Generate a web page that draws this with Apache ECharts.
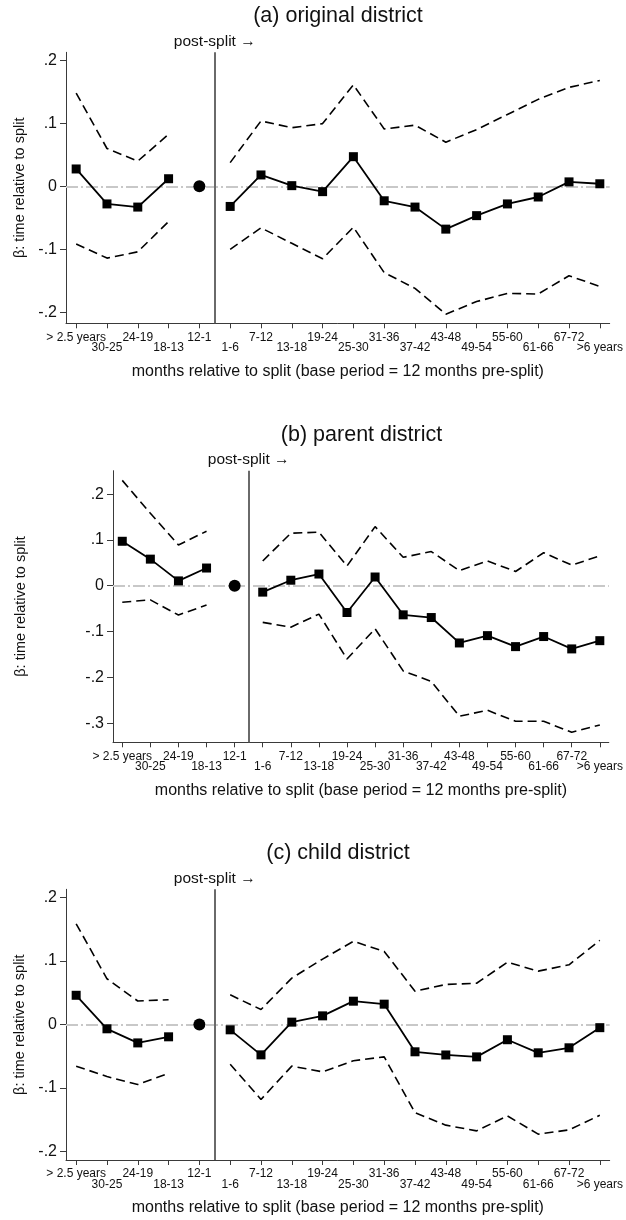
<!DOCTYPE html>
<html>
<head>
<meta charset="utf-8">
<style>
  html, body { margin: 0; padding: 0; background: #ffffff; }
  #chart { width: 626px; height: 1220px; }
</style>
<script src="https://cdn.jsdelivr.net/npm/echarts@6/dist/echarts.min.js"></script>
</head>
<body>
<div id="chart"></div>
<script>
// Event-study periods (months relative to the district split)
const periods = ['> 2.5 years', '30-25', '24-19', '18-13', '12-1', '1-6', '7-12', '13-18', '19-24',
  '25-30', '31-36', '37-42', '43-48', '49-54', '55-60', '61-66', '67-72', '>6 years'];
const baseIndex = 4;        // 12-1 months pre-split is the omitted base period
const baseEstimate = 0;

// (a) original district
const originalCoef  = [0.0275, -0.028, -0.033, 0.012, null, -0.032, 0.018, 0.001, -0.0085, 0.047, -0.023, -0.033, -0.068, -0.0466, -0.028, -0.017, 0.007, 0.004];
const originalUpper = [0.148, 0.060, 0.040, 0.0825, null, 0.0376, 0.1037, 0.093, 0.0995, 0.161, 0.091, 0.097, 0.070, 0.090, 0.114, 0.138, 0.157, 0.168];
const originalLower = [-0.0915, -0.114, -0.104, -0.056, null, -0.100, -0.066, -0.0905, -0.115, -0.065, -0.137, -0.162, -0.203, -0.183, -0.170, -0.171, -0.142, -0.159];

// (b) parent district
const parentCoef  = [0.097, 0.058, 0.0105, 0.0386, null, -0.014, 0.012, 0.0255, -0.0585, 0.019, -0.0636, -0.0695, -0.125, -0.109, -0.133, -0.111, -0.138, -0.120];
const parentUpper = [0.230, 0.158, 0.089, 0.119, null, 0.054, 0.1146, 0.1168, 0.043, 0.129, 0.062, 0.0745, 0.033, 0.054, 0.031, 0.072, 0.045, 0.065];
const parentLower = [-0.036, -0.031, -0.064, -0.042, null, -0.080, -0.0905, -0.062, -0.160, -0.094, -0.186, -0.209, -0.285, -0.272, -0.296, -0.296, -0.320, -0.304];

// (c) child district
const childCoef  = [0.046, -0.0068, -0.029, -0.0194, null, -0.0084, -0.0478, 0.0037, 0.0136, 0.0367, 0.032, -0.043, -0.048, -0.051, -0.024, -0.0446, -0.0367, -0.005];
const childUpper = [0.1586, 0.072, 0.037, 0.039, null, 0.0467, 0.0236, 0.073, 0.103, 0.131, 0.115, 0.0525, 0.063, 0.065, 0.098, 0.084, 0.094, 0.1325];
const childLower = [-0.0656, -0.082, -0.0945, -0.077, null, -0.0625, -0.118, -0.0656, -0.0745, -0.057, -0.051, -0.139, -0.1585, -0.1675, -0.144, -0.1727, -0.166, -0.143];

// y-axis tick values
const ticksNarrow = [-0.2, -0.1, 0, 0.1, 0.2];
const ticksWide   = [-0.3, -0.2, -0.1, 0, 0.1, 0.2];

const titles = ['(a) original district', '(b) parent district', '(c) child district'];
const yAxisTitle = 'β: time relative to split';
const xAxisTitle = 'months relative to split (base period = 12 months pre-split)';
const splitLabel = 'post-split →';

const FONT = '"Liberation Sans", Arial, Helvetica, sans-serif';

// Layout of the three stacked panels
const panels = [
  { title: titles[0], coef: originalCoef, upper: originalUpper, lower: originalLower, ticks: ticksNarrow,
    min: -0.2175, max: 0.2127, grid: { left: 66, top: 52.3, width: 544, height: 271 }, titleY: 16.5, yGap: 38 },
  { title: titles[1], coef: parentCoef, upper: parentUpper, lower: parentLower, ticks: ticksWide,
    min: -0.3419, max: 0.2511, grid: { left: 113, top: 470.7, width: 497, height: 271.6 }, titleY: 435, yGap: 85 },
  { title: titles[2], coef: childCoef, upper: childUpper, lower: childLower, ticks: ticksNarrow,
    min: -0.2134, max: 0.2129, grid: { left: 66, top: 889.3, width: 544, height: 270.7 }, titleY: 852.8, yGap: 38 }
];

const toPairs = arr => arr.map((v, i) => [i, v == null ? '-' : v]);
const stataNum = v => {
  if (Math.abs(v) < 1e-9) return '0';
  return (v < 0 ? '-' : '') + Math.abs(v).toFixed(1).replace(/^0/, '');
};
const xPositions = periods.map((_, i) => i);
// period labels alternate between two rows under the axis
const upperRow = xPositions.filter(i => i % 2 === 0);
const lowerRow = xPositions.filter(i => i % 2 === 1);
const periodLabel = v => periods[Math.round(v)];

const grids = [], xAxes = [], yAxes = [], series = [], graphics = [];
const X_MIN = -0.33, X_MAX = 17.32;

panels.forEach((p, k) => {
  grids.push(Object.assign({ containLabel: false }, p.grid));
  const xMain = 2 * k;

  xAxes.push({
    type: 'value', gridIndex: k, position: 'bottom', offset: 0, min: X_MIN, max: X_MAX,
    axisLine: { show: true, onZero: false, lineStyle: { color: '#3a3a3a', width: 1 } },
    axisTick: { show: true, length: 5, customValues: xPositions, lineStyle: { color: '#3a3a3a' } },
    axisLabel: {
      customValues: upperRow, margin: 8, fontFamily: FONT, fontSize: 12, lineHeight: 12,
      color: '#111', hideOverlap: false, showMinLabel: true, showMaxLabel: true,
      formatter: periodLabel
    },
    splitLine: { show: false },
    name: xAxisTitle, nameLocation: 'middle', nameGap: 40,
    nameTextStyle: { fontFamily: FONT, fontSize: 16, color: '#111' }
  });
  xAxes.push({
    type: 'value', gridIndex: k, position: 'bottom', offset: 0, min: X_MIN, max: X_MAX,
    axisLine: { show: false, onZero: false },
    axisTick: { show: false },
    axisLabel: {
      customValues: lowerRow, margin: 18.5, fontFamily: FONT, fontSize: 12, lineHeight: 12,
      color: '#111', hideOverlap: false, showMinLabel: true, showMaxLabel: true,
      formatter: periodLabel
    },
    splitLine: { show: false }
  });

  yAxes.push({
    type: 'value', gridIndex: k, min: p.min, max: p.max,
    axisLine: { show: true, onZero: false, lineStyle: { color: '#3a3a3a', width: 1 } },
    axisTick: { show: true, length: 6, customValues: p.ticks, lineStyle: { color: '#3a3a3a' } },
    axisLabel: { customValues: p.ticks, margin: 9, fontFamily: FONT, fontSize: 16, color: '#111',
      showMinLabel: true, showMaxLabel: true, formatter: stataNum },
    splitLine: { show: false },
    name: yAxisTitle, nameLocation: 'middle', nameGap: p.yGap,
    nameTextStyle: { fontFamily: FONT, fontSize: 14.5, color: '#111' }
  });

  const dashed = { color: '#000', width: 1.6, type: [9, 5] };

  // reference lines: zero line and the split marker, kept underneath the estimates
  series.push({
    type: 'line', xAxisIndex: xMain, yAxisIndex: k, data: [], silent: true, z: 1,
    markLine: {
      silent: true, symbol: ['none', 'none'], animation: false, z: 1,
      data: [
        { yAxis: 0, label: { show: false },
          lineStyle: { color: '#c8c8c8', width: 2, type: [12, 3, 2, 3] } },
        { xAxis: baseIndex + 0.5,
          lineStyle: { color: '#6a6a6a', width: 2, type: 'solid' },
          label: { show: true, position: 'end', distance: 3, formatter: splitLabel,
            fontFamily: FONT, fontSize: 15.5, color: '#111' } }
      ]
    }
  });
  series.push({
    type: 'line', xAxisIndex: xMain, yAxisIndex: k, data: toPairs(p.upper), showSymbol: false,
    connectNulls: false, lineStyle: dashed, silent: true, z: 2
  });
  series.push({
    type: 'line', xAxisIndex: xMain, yAxisIndex: k, data: toPairs(p.lower), showSymbol: false,
    connectNulls: false, lineStyle: dashed, silent: true, z: 2
  });
  series.push({
    type: 'line', xAxisIndex: xMain, yAxisIndex: k, data: toPairs(p.coef), connectNulls: false,
    symbol: 'rect', symbolSize: 9, showSymbol: true, showAllSymbol: true,
    itemStyle: { color: '#000', opacity: 1 }, lineStyle: { color: '#000', width: 1.8 }, silent: true, z: 4
  });
  series.push({
    type: 'scatter', xAxisIndex: xMain, yAxisIndex: k, data: [[baseIndex, baseEstimate]],
    symbol: 'circle', symbolSize: 12, itemStyle: { color: '#000', opacity: 1 }, silent: true, z: 4
  });

  graphics.push({
    type: 'text', x: p.grid.left + p.grid.width / 2, y: p.titleY,
    style: { text: p.title, fontFamily: FONT, fontSize: 21.5, fill: '#111',
      align: 'center', verticalAlign: 'middle' }
  });
});

const chart = echarts.init(document.getElementById('chart'), null, { renderer: 'canvas' });
chart.setOption({
  backgroundColor: '#ffffff',
  animation: false,
  grid: grids,
  xAxis: xAxes,
  yAxis: yAxes,
  series: series,
  graphic: graphics
});
</script>
</body>
</html>
